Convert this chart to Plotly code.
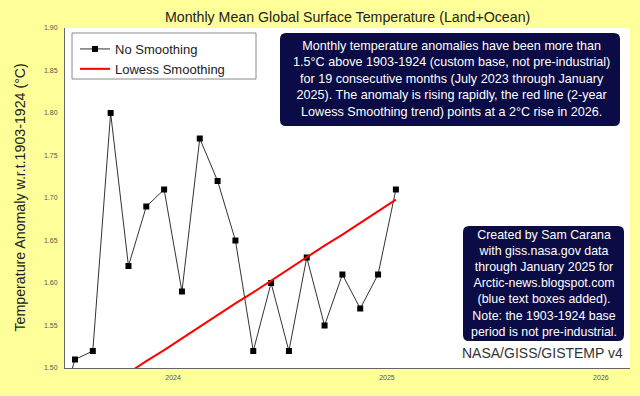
import plotly.graph_objects as go

months = ["2023-06", "2023-07", "2023-08", "2023-09", "2023-10", "2023-11", "2023-12",
          "2024-01", "2024-02", "2024-03", "2024-04", "2024-05", "2024-06", "2024-07",
          "2024-08", "2024-09", "2024-10", "2024-11", "2024-12", "2025-01"]
anomaly = [1.44, 1.51, 1.52, 1.80, 1.62, 1.69, 1.71,
           1.59, 1.77, 1.72, 1.65, 1.52, 1.60, 1.52,
           1.63, 1.55, 1.61, 1.57, 1.61, 1.71]
lowess_months = months[1:]
lowess = [1.453, 1.467, 1.480, 1.494, 1.508, 1.521,
          1.535, 1.548, 1.562, 1.576, 1.589, 1.603, 1.616,
          1.630, 1.644, 1.657, 1.671, 1.684, 1.698]
ytick_vals = [1.50, 1.55, 1.60, 1.65, 1.70, 1.75, 1.80, 1.85, 1.90]
xtick_vals = [2024, 2025, 2026]


def dec_year(s):
    y, m = s.split("-")
    return int(y) + (int(m) - 0.5) / 12


x_anom = [dec_year(m) for m in months]
x_low = [dec_year(m) for m in lowess_months]

FONT = "Liberation Sans, Arial, sans-serif"
W, H = 640, 396
ML, MR, MT, MB = 65, 10, 28, 28
PW, PH = W - ML - MR, H - MT - MB


def px(x):
    return (x - ML) / PW


def py(y):
    return (H - MB - y) / PH


def rounded_rect(x0, y0, x1, y1, r):
    rx, ry = r / PW, r / PH
    a, b, c, d = px(x0), px(x1), py(y1), py(y0)
    return (f"M {a + rx} {c} L {b - rx} {c} Q {b} {c} {b} {c + ry} "
            f"L {b} {d - ry} Q {b} {d} {b - rx} {d} L {a + rx} {d} "
            f"Q {a} {d} {a} {d - ry} L {a} {c + ry} Q {a} {c} {a + rx} {c} Z")


fig = go.Figure()
fig.add_trace(go.Scatter(
    x=x_anom, y=anomaly, mode="lines+markers", name="No Smoothing",
    line=dict(color="#333333", width=1),
    marker=dict(symbol="square", size=6, color="black"),
))
fig.add_trace(go.Scatter(
    x=x_low, y=lowess, mode="lines", name="Lowess Smoothing",
    line=dict(color="#ff0000", width=2),
))

NAVY = "#0b0b45"
fig.add_shape(type="path", xref="paper", yref="paper", layer="above",
              path=rounded_rect(280, 33, 620, 126, 6),
              fillcolor=NAVY, line=dict(width=0))
fig.add_shape(type="path", xref="paper", yref="paper", layer="above",
              path=rounded_rect(463, 226, 624, 341, 6),
              fillcolor=NAVY, line=dict(width=0))
fig.add_shape(type="rect", xref="paper", yref="paper", layer="above",
              x0=px(72), x1=px(256), y0=py(79), y1=py(33),
              fillcolor="white", line=dict(color="#888888", width=1))

fig.add_annotation(
    x=px(451), y=py(79), xref="paper", yref="paper",
    xanchor="center", yanchor="middle",
    text="Monthly temperature anomalies have been more than<br>"
         "1.5°C above 1903-1924 (custom base, not pre-industrial)<br>"
         "for 19 consecutive months (July 2023 through January<br>"
         "2025). The anomaly is rising rapidly, the red line (2-year<br>"
         "Lowess Smoothing trend) points at a 2°C rise in 2026.",
    showarrow=False, align="center",
    font=dict(family=FONT, size=12.6, color="white"),
)
fig.add_annotation(
    x=px(543.5), y=py(283.5), xref="paper", yref="paper",
    xanchor="center", yanchor="middle",
    text="Created by Sam Carana<br>with giss.nasa.gov data<br>through January 2025 for<br>"
         "Arctic-news.blogspot.com<br>(blue text boxes added).<br>"
         "Note: the 1903-1924 base<br>period is not pre-industrial.",
    showarrow=False, align="center",
    font=dict(family=FONT, size=12.4, color="white"),
)
fig.add_annotation(
    x=px(625), y=py(353), xref="paper", yref="paper",
    xanchor="right", yanchor="middle",
    text="NASA/GISS/GISTEMP v4", showarrow=False,
    font=dict(family=FONT, size=14, color="#333333"),
)
fig.add_annotation(
    x=px(347), y=py(17), xref="paper", yref="paper",
    xanchor="center", yanchor="middle",
    text="Monthly Mean Global Surface Temperature (Land+Ocean)", showarrow=False,
    font=dict(family=FONT, size=14.2, color="#222222"),
)
fig.add_annotation(
    x=px(19), y=py(197.5), xref="paper", yref="paper",
    xanchor="center", yanchor="middle", textangle=-90,
    text="Temperature Anomaly w.r.t.1903-1924 (°C)", showarrow=False,
    font=dict(family=FONT, size=14.2, color="#222222"),
)

fig.update_layout(
    width=W, height=H,
    margin=dict(l=ML, r=MR, t=MT, b=MB, autoexpand=False),
    paper_bgcolor="#ffff99", plot_bgcolor="white",
    font=dict(family=FONT, color="#222222"),
    showlegend=True,
    legend=dict(x=px(75), y=py(34), xanchor="left", yanchor="top",
                bgcolor="rgba(0,0,0,0)", borderwidth=0,
                font=dict(family=FONT, size=13, color="#222222"), tracegroupgap=2),
    xaxis=dict(range=[2023.495, 2026.136], tickvals=xtick_vals,
               ticktext=[str(v) for v in xtick_vals], automargin=False,
               showgrid=False, zeroline=False, showline=True,
               linecolor="#666666", linewidth=1, ticklabelstandoff=3,
               tickfont=dict(size=7, color="#555555")),
    yaxis=dict(range=[1.50, 1.90], tickvals=ytick_vals, automargin=False,
               ticktext=[f"{v:.2f}" for v in ytick_vals],
               showgrid=False, zeroline=False, showline=True,
               linecolor="#666666", linewidth=1, ticklabelstandoff=5,
               tickfont=dict(size=7, color="#555555")),
)

fig.write_html("out.html", config={"displayModeBar": False},
               post_script="document.body.style.margin='0';")
